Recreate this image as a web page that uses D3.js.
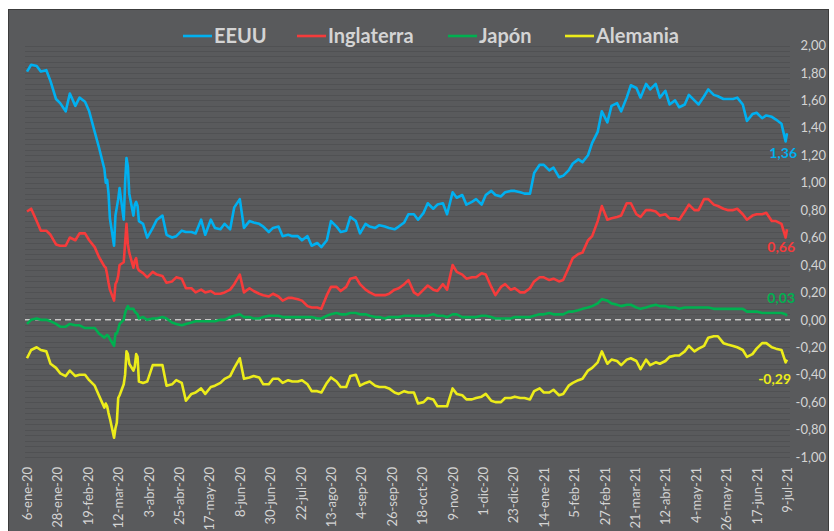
<!DOCTYPE html>
<html>
<head>
<meta charset="utf-8">
<script src="https://cdn.jsdelivr.net/npm/d3@7"></script>
<style>
  body { margin: 0; background: #ffffff; }
  text { font-family: Lato, "Open Sans", sans-serif; }
</style>
</head>
<body>
<div id="fig"></div>
<script>
// fechas (lunes y jueves, diarias en marzo 2020)
var dates = [
  "2020-01-06","2020-01-09","2020-01-13","2020-01-16","2020-01-20","2020-01-23","2020-01-27","2020-01-30",
  "2020-02-03","2020-02-06","2020-02-10","2020-02-13","2020-02-17","2020-02-20","2020-02-24","2020-02-27",
  "2020-03-02","2020-03-03","2020-03-04","2020-03-05","2020-03-06","2020-03-09","2020-03-10","2020-03-11",
  "2020-03-12","2020-03-13","2020-03-16","2020-03-17","2020-03-18","2020-03-19","2020-03-20","2020-03-23",
  "2020-03-24","2020-03-25","2020-03-26","2020-03-27","2020-03-30","2020-04-02",
  "2020-04-06","2020-04-09","2020-04-13","2020-04-16","2020-04-20","2020-04-23","2020-04-27","2020-04-30",
  "2020-05-04","2020-05-07","2020-05-11","2020-05-14","2020-05-18","2020-05-21","2020-05-25","2020-05-28",
  "2020-06-01","2020-06-04","2020-06-08","2020-06-11","2020-06-15","2020-06-18","2020-06-22","2020-06-25",
  "2020-06-29","2020-07-02","2020-07-06","2020-07-09","2020-07-13","2020-07-16","2020-07-20","2020-07-23",
  "2020-07-27","2020-07-30","2020-08-03","2020-08-06","2020-08-10","2020-08-13","2020-08-17","2020-08-20",
  "2020-08-24","2020-08-27","2020-08-31","2020-09-03","2020-09-07","2020-09-10","2020-09-14","2020-09-17",
  "2020-09-21","2020-09-24","2020-09-28","2020-10-01","2020-10-05","2020-10-08","2020-10-12","2020-10-15",
  "2020-10-19","2020-10-22","2020-10-26","2020-10-29","2020-11-02","2020-11-05","2020-11-09","2020-11-12",
  "2020-11-16","2020-11-19","2020-11-23","2020-11-26","2020-11-30","2020-12-03","2020-12-07","2020-12-10",
  "2020-12-14","2020-12-17","2020-12-21","2020-12-24","2020-12-28","2020-12-31",
  "2021-01-04","2021-01-07","2021-01-11","2021-01-14","2021-01-18","2021-01-21","2021-01-25","2021-01-28",
  "2021-02-01","2021-02-04","2021-02-08","2021-02-11","2021-02-15","2021-02-18","2021-02-22","2021-02-25",
  "2021-03-01","2021-03-04","2021-03-08","2021-03-11","2021-03-15","2021-03-18","2021-03-22","2021-03-25",
  "2021-03-29","2021-04-01","2021-04-05","2021-04-08","2021-04-12","2021-04-15","2021-04-19","2021-04-22",
  "2021-04-26","2021-04-29","2021-05-03","2021-05-06","2021-05-10","2021-05-13","2021-05-17","2021-05-20",
  "2021-05-24","2021-05-27","2021-05-31","2021-06-03","2021-06-07","2021-06-10","2021-06-14","2021-06-17",
  "2021-06-21","2021-06-24","2021-06-28","2021-07-01","2021-07-05","2021-07-08","2021-07-09"
];

var eeuu = [
  1.81,1.86,1.85,1.81,1.82,1.74,1.61,1.58,
  1.52,1.65,1.56,1.62,1.59,1.52,1.37,1.26,
  1.10,1.00,1.02,0.92,0.74,0.54,0.76,0.82,
  0.88,0.96,0.73,1.00,1.18,1.12,0.92,0.76,
  0.84,0.86,0.83,0.72,0.70,0.60,
  0.67,0.73,0.76,0.62,0.60,0.61,0.65,0.64,
  0.64,0.63,0.73,0.62,0.73,0.67,0.66,0.70,
  0.66,0.82,0.88,0.67,0.72,0.71,0.70,0.68,
  0.64,0.67,0.68,0.61,0.62,0.61,0.61,0.58,
  0.61,0.54,0.56,0.53,0.58,0.72,0.68,0.64,
  0.65,0.75,0.72,0.63,0.70,0.68,0.67,0.69,
  0.68,0.67,0.66,0.68,0.71,0.77,0.77,0.73,
  0.78,0.85,0.81,0.84,0.85,0.77,0.93,0.89,
  0.91,0.84,0.86,0.88,0.84,0.91,0.94,0.91,
  0.90,0.93,0.94,0.94,0.93,0.92,
  0.92,1.07,1.13,1.13,1.09,1.11,1.04,1.05,
  1.09,1.14,1.17,1.15,1.20,1.29,1.37,1.52,
  1.44,1.56,1.58,1.52,1.62,1.71,1.69,1.62,
  1.72,1.68,1.72,1.62,1.67,1.57,1.60,1.55,
  1.57,1.64,1.60,1.57,1.63,1.68,1.64,1.63,
  1.61,1.61,1.61,1.62,1.57,1.45,1.50,1.51,
  1.47,1.49,1.48,1.46,1.43,1.30,1.36
];

var inglaterra = [
  0.79,0.81,0.72,0.65,0.65,0.62,0.55,0.54,
  0.54,0.60,0.58,0.63,0.63,0.58,0.53,0.46,
  0.39,0.38,0.33,0.27,0.22,0.14,0.26,0.28,
  0.32,0.40,0.42,0.56,0.70,0.55,0.49,0.38,
  0.43,0.45,0.38,0.36,0.34,0.31,
  0.35,0.33,0.32,0.27,0.28,0.31,0.30,0.23,
  0.23,0.20,0.22,0.20,0.21,0.19,0.19,0.20,
  0.22,0.26,0.33,0.20,0.23,0.21,0.19,0.18,
  0.17,0.19,0.17,0.14,0.16,0.16,0.15,0.14,
  0.10,0.09,0.09,0.08,0.18,0.24,0.24,0.21,
  0.24,0.30,0.31,0.26,0.22,0.20,0.18,0.18,
  0.18,0.19,0.22,0.23,0.26,0.29,0.20,0.18,
  0.22,0.25,0.22,0.21,0.26,0.22,0.40,0.35,
  0.33,0.30,0.31,0.31,0.34,0.33,0.24,0.18,
  0.24,0.26,0.22,0.23,0.20,0.20,
  0.23,0.28,0.31,0.31,0.29,0.30,0.28,0.29,
  0.38,0.45,0.48,0.49,0.58,0.61,0.72,0.83,
  0.73,0.74,0.75,0.76,0.85,0.85,0.77,0.75,
  0.80,0.80,0.79,0.76,0.77,0.74,0.74,0.73,
  0.79,0.84,0.80,0.80,0.88,0.88,0.84,0.83,
  0.81,0.80,0.80,0.81,0.77,0.73,0.76,0.77,
  0.77,0.78,0.72,0.72,0.70,0.60,0.66
];

var japon = [
  -0.03,0.00,0.01,0.00,0.00,-0.01,-0.03,-0.05,
  -0.05,-0.03,-0.04,-0.04,-0.06,-0.06,-0.06,-0.10,
  -0.13,-0.12,-0.11,-0.12,-0.14,-0.19,-0.10,-0.10,
  -0.07,-0.03,0.00,0.05,0.08,0.10,0.08,0.08,
  0.06,0.05,0.04,0.01,0.02,0.00,
  0.01,0.01,0.02,0.01,-0.02,-0.03,-0.04,-0.03,
  -0.02,-0.01,-0.01,-0.01,-0.01,-0.01,0.00,0.00,
  0.02,0.03,0.04,0.02,0.02,0.01,0.01,0.02,
  0.03,0.03,0.03,0.02,0.02,0.02,0.02,0.02,
  0.02,0.02,0.01,0.01,0.03,0.04,0.05,0.04,
  0.04,0.05,0.05,0.04,0.04,0.03,0.02,0.02,
  0.01,0.02,0.02,0.02,0.03,0.03,0.03,0.03,
  0.03,0.03,0.04,0.03,0.03,0.02,0.04,0.04,
  0.02,0.02,0.02,0.02,0.03,0.03,0.02,0.01,
  0.01,0.01,0.01,0.02,0.02,0.02,
  0.02,0.03,0.04,0.04,0.05,0.04,0.04,0.04,
  0.06,0.06,0.07,0.08,0.09,0.10,0.12,0.15,
  0.14,0.12,0.11,0.10,0.11,0.11,0.09,0.08,
  0.09,0.10,0.11,0.10,0.10,0.09,0.09,0.08,
  0.09,0.09,0.09,0.09,0.09,0.09,0.08,0.08,
  0.08,0.08,0.08,0.08,0.08,0.06,0.06,0.06,
  0.05,0.05,0.05,0.05,0.05,0.04,0.03
];

var alemania = [
  -0.28,-0.22,-0.20,-0.22,-0.23,-0.32,-0.35,-0.39,
  -0.41,-0.37,-0.41,-0.40,-0.40,-0.44,-0.48,-0.55,
  -0.64,-0.61,-0.63,-0.68,-0.72,-0.86,-0.79,-0.75,
  -0.57,-0.55,-0.47,-0.40,-0.23,-0.25,-0.32,-0.37,
  -0.34,-0.25,-0.27,-0.45,-0.46,-0.45,
  -0.33,-0.33,-0.33,-0.48,-0.47,-0.44,-0.46,-0.59,
  -0.54,-0.53,-0.50,-0.54,-0.49,-0.48,-0.46,-0.43,
  -0.41,-0.35,-0.28,-0.43,-0.42,-0.41,-0.42,-0.47,
  -0.47,-0.43,-0.43,-0.46,-0.44,-0.45,-0.45,-0.44,
  -0.47,-0.52,-0.52,-0.53,-0.46,-0.42,-0.45,-0.49,
  -0.49,-0.41,-0.40,-0.48,-0.46,-0.45,-0.48,-0.49,
  -0.49,-0.50,-0.53,-0.54,-0.52,-0.53,-0.53,-0.61,
  -0.60,-0.57,-0.58,-0.63,-0.63,-0.63,-0.50,-0.54,
  -0.55,-0.58,-0.58,-0.57,-0.56,-0.54,-0.59,-0.60,
  -0.60,-0.57,-0.57,-0.56,-0.57,-0.57,
  -0.58,-0.52,-0.50,-0.53,-0.53,-0.51,-0.55,-0.54,
  -0.48,-0.46,-0.44,-0.43,-0.37,-0.35,-0.31,-0.23,
  -0.32,-0.29,-0.30,-0.33,-0.29,-0.28,-0.30,-0.36,
  -0.29,-0.33,-0.31,-0.32,-0.30,-0.27,-0.26,-0.26,
  -0.23,-0.19,-0.23,-0.21,-0.19,-0.13,-0.12,-0.12,
  -0.17,-0.18,-0.19,-0.20,-0.22,-0.27,-0.25,-0.21,
  -0.17,-0.17,-0.20,-0.21,-0.22,-0.31,-0.29
];

// etiquetas del eje x (cada 22 dias)
var tickLabels = ["6-ene-20","28-ene-20","19-feb-20","12-mar-20","3-abr-20","25-abr-20","17-may-20","8-jun-20",
  "30-jun-20","22-jul-20","13-ago-20","4-sep-20","26-sep-20","18-oct-20","9-nov-20","1-dic-20","23-dic-20",
  "14-ene-21","5-feb-21","27-feb-21","21-mar-21","12-abr-21","4-may-21","26-may-21","17-jun-21","9-jul-21"];
var yTicks = [2,1.8,1.6,1.4,1.2,1,0.8,0.6,0.4,0.2,0,-0.2,-0.4,-0.6,-0.8,-1];

var seriesNames = ["EEUU","Inglaterra","Japón","Alemania"];
var seriesData = [eeuu, inglaterra, japon, alemania];
var colors = ["#00b0f0","#f53b3b","#00b050","#ecec1a"];

var W = 834, H = 531;
var svg = d3.select("#fig").append("svg")
    .attr("width", W)
    .attr("height", H);

// panel gris
svg.append("rect")
    .attr("x", 8.5).attr("y", 9.5)
    .attr("width", 820).attr("height", 530)
    .attr("fill", "#595a5c")
    .attr("stroke", "#3c3c3c");

var parse = d3.timeParse("%Y-%m-%d");
var dd = dates.map(parse);

var x = d3.scaleTime()
    .domain([dd[0], dd[dd.length - 1]])
    .range([27, 787]);

var y = d3.scaleLinear()
    .domain([-1, 2])
    .range([457, 45.5]);

// lineas de cuadricula menores (cada 0,04)
var grid = d3.range(-1, 2.001, 0.04);
svg.append("g")
  .selectAll("line")
  .data(grid)
  .enter().append("line")
    .attr("x1", 25).attr("x2", 790)
    .attr("y1", function(d) { return Math.round(y(d)) + 0.5; })
    .attr("y2", function(d) { return Math.round(y(d)) + 0.5; })
    .attr("stroke", "#505153")
    .attr("stroke-width", 1);

// linea de cero
svg.append("line")
    .attr("x1", 25).attr("x2", 790)
    .attr("y1", y(0)).attr("y2", y(0))
    .attr("stroke", "#c8c8c8")
    .attr("stroke-width", 1.5)
    .attr("stroke-dasharray", "6,4");

// eje y a la derecha
var fmt = function(v) { return d3.format(".2f")(v).replace(".", ",").replace("−", "-"); };
var yAxis = svg.append("g")
    .attr("transform", "translate(826,0)")
    .call(d3.axisLeft(y).tickValues(yTicks).tickSize(0).tickFormat(fmt));
yAxis.select(".domain").remove();
yAxis.selectAll("text")
    .attr("x", 0)
    .attr("fill", "#d4d4d4")
    .style("font-family", "Lato, sans-serif")
    .style("font-size", "13px");

// eje x con etiquetas giradas
var tickDates = tickLabels.map(function(t, i) { return d3.timeDay.offset(dd[0], i * 22); });
var xAxis = svg.append("g")
    .attr("transform", "translate(0,467)")
    .call(d3.axisBottom(x).tickValues(tickDates).tickSize(0)
      .tickFormat(function(d, i) { return tickLabels[i]; }));
xAxis.select(".domain").remove();
xAxis.selectAll("text")
    .attr("fill", "#d4d4d4")
    .style("font-family", "Lato, sans-serif")
    .style("font-size", "13px")
    .style("text-anchor", "end")
    .attr("transform", "rotate(-90)")
    .attr("x", 0)
    .attr("y", 0)
    .attr("dy", "0.35em");

// lineas
var line = d3.line()
    .x(function(d, i) { return x(dd[i]); })
    .y(function(d) { return y(d); });

seriesData.forEach(function(s, k) {
  svg.append("path")
      .datum(s)
      .attr("fill", "none")
      .attr("stroke", colors[k])
      .attr("stroke-width", 2.6)
      .attr("stroke-linejoin", "round")
      .attr("d", line);
});

// etiquetas del ultimo valor
var lastOff = [20, 18, -18, 19];
var lastDx = [10, 8, 8, 4];
seriesData.forEach(function(s, k) {
  var v = s[s.length - 1];
  svg.append("text")
      .attr("x", x(dd[dd.length - 1]) + lastDx[k])
      .attr("y", y(v) + lastOff[k])
      .attr("dy", "0.35em")
      .attr("text-anchor", "end")
      .attr("fill", colors[k])
      .style("font-size", "14px")
      .style("font-weight", "bold")
      .text(fmt(v));
});

// leyenda
var legX = [183, 297, 448, 565];
seriesNames.forEach(function(n, k) {
  svg.append("line")
      .attr("x1", legX[k]).attr("x2", legX[k] + 29)
      .attr("y1", 36).attr("y2", 36)
      .attr("stroke", colors[k])
      .attr("stroke-width", 2.6);
  svg.append("text")
      .attr("x", legX[k] + 31)
      .attr("y", 36)
      .attr("dy", "0.35em")
      .attr("fill", "#d4d4d4")
      .style("font-size", "20px")
      .style("font-weight", "bold")
      .text(n);
});
</script>
</body>
</html>
